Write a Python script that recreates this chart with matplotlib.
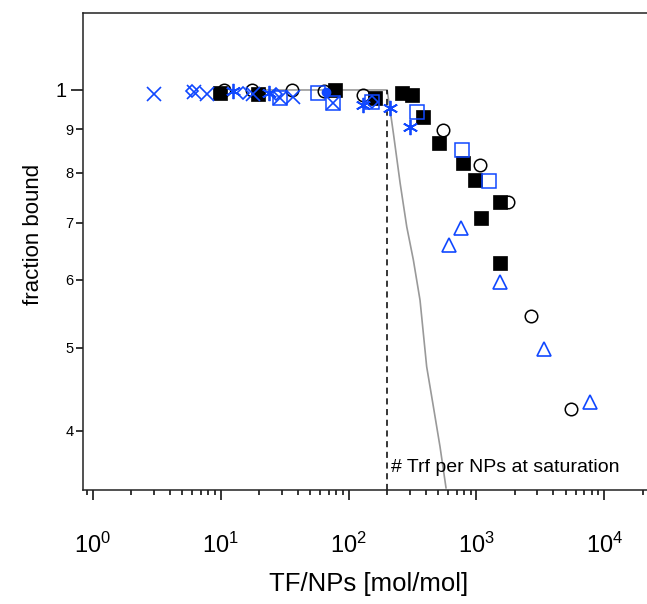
import numpy as np
import matplotlib.pyplot as plt
from matplotlib.ticker import FixedLocator, FixedFormatter, LogLocator, NullFormatter

plt.rcParams['font.family'] = ['Liberation Sans', 'DejaVu Sans']
plt.rcParams['mathtext.fontset'] = 'custom'
plt.rcParams['mathtext.rm'] = 'Liberation Sans'
plt.rcParams['mathtext.it'] = 'Liberation Sans:italic'

BLUE = '#1048ff'

# black filled squares
sq_black_x = [9.8, 19.6, 78, 161, 260, 312, 383, 513, 778, 970, 1085, 1517, 1528]
sq_black_y = [0.991, 0.990, 1.0, 0.978, 0.991, 0.987, 0.931, 0.866, 0.821, 0.786, 0.708, 0.739, 0.628]

# black open circles
circ_x = [10.6, 17.6, 36, 64, 130, 544, 1066, 1763, 2678, 5456]
circ_y = [1.0, 1.0, 1.0, 0.997, 0.987, 0.898, 0.817, 0.739, 0.545, 0.424]

# blue open squares
bsq_x = [29, 58, 76, 151, 342, 775, 1259]
bsq_y = [0.978, 0.991, 0.965, 0.969, 0.943, 0.851, 0.783]

# blue open triangles
tri_x = [610, 752, 1537, 3385, 7676]
tri_y = [0.659, 0.689, 0.597, 0.498, 0.432]

# blue asterisks
ast_x = [12.4, 23.8, 130, 211, 303]
ast_y = [0.998, 0.991, 0.960, 0.952, 0.906]

# blue crosses
cross_x = [3.0, 6.2, 7.8, 17.9, 29, 36.7, 76]
cross_y = [0.988, 0.995, 0.988, 0.988, 0.978, 0.980, 0.965]

# blue diamonds
dia_x = [5.9, 14.9, 27, 151]
dia_y = [0.997, 0.993, 0.990, 0.969]

# blue filled circle
bdot_x = [66.8]
bdot_y = [0.994]

# gray model curve
line_x = [20, 200, 211, 224, 253, 285, 321, 362, 408, 460, 519, 578]
line_y = [1.0, 1.0, 0.948, 0.890, 0.778, 0.692, 0.633, 0.568, 0.475, 0.427, 0.383, 0.343]

sat_x = 200
x_lim = (0.835, 21600)
y_lim = (0.341, 1.231)
y_minor = [0.4, 0.5, 0.6, 0.7, 0.8, 0.9]
y_minor_labels = ['4', '5', '6', '7', '8', '9']

fig = plt.figure(figsize=(6.47, 6.04), dpi=100)
ax = fig.add_axes([83 / 647, (604 - 490) / 604, 1 - 83 / 647, (490 - 12.7) / 604])
ax.set_xscale('log')
ax.set_yscale('log')

ax.plot(line_x, line_y, color='#999999', lw=1.2, zorder=1)
ax.plot([sat_x, sat_x], [y_lim[0], 1.0], color='black', lw=1.1,
        linestyle=(0, (4, 3)), zorder=1)

ms = dict(linestyle='none', zorder=3)
ax.plot(sq_black_x, sq_black_y, marker='s', ms=10, mfc='black', mec='black', mew=0.5, **ms)
ax.plot(circ_x, circ_y, marker='o', ms=9, mfc='none', mec='black', mew=1.1, **ms)
ax.plot(bsq_x, bsq_y, marker='s', ms=9.5, mfc='none', mec=BLUE, mew=1.1, **ms)
ax.plot(tri_x, tri_y, marker='^', ms=10, mfc='none', mec=BLUE, mew=1.2, **ms)
ax.plot(ast_x, ast_y, marker=(6, 2, 0), ms=11, mec=BLUE, mew=1.3, **ms)
ax.plot(cross_x, cross_y, marker='x', ms=10, mec=BLUE, mew=1.2, **ms)
ax.plot(dia_x, dia_y, marker='D', ms=6.5, mfc='none', mec=BLUE, mew=1.2, **ms)
ax.plot(bdot_x, bdot_y, marker='o', ms=6, mfc=BLUE, mec=BLUE, **ms)

ax.text(215, 0.3627, '# Trf per NPs at saturation', fontsize=14,
        ha='left', va='center')

ax.set_xlim(*x_lim)
ax.set_ylim(*y_lim)

for s in ['left', 'top', 'bottom']:
    ax.spines[s].set_linewidth(1.1)
    ax.spines[s].set_color('#222222')
ax.spines['right'].set_visible(False)

ax.xaxis.set_major_locator(LogLocator(base=10, numticks=10))
ax.xaxis.set_minor_locator(LogLocator(base=10, subs=np.arange(2, 10), numticks=20))
ax.xaxis.set_minor_formatter(NullFormatter())
ax.tick_params(axis='x', which='major', length=7.5, width=1.1, labelsize=17, pad=23)
ax.tick_params(axis='x', which='minor', length=3.6, width=1.1)

ax.yaxis.set_major_locator(FixedLocator([1.0]))
ax.yaxis.set_major_formatter(FixedFormatter(['1']))
ax.yaxis.set_minor_locator(FixedLocator(y_minor))
ax.yaxis.set_minor_formatter(FixedFormatter(y_minor_labels))
ax.tick_params(axis='y', which='major', length=8.5, width=1.1, labelsize=14.5, pad=3)
ax.tick_params(axis='y', which='minor', length=5, width=1.1, labelsize=10.5, pad=2)

ax.set_xlabel('TF/NPs [mol/mol]', fontsize=18.5)
ax.xaxis.set_label_coords(0.507, -0.172)
ax.set_ylabel('fraction bound', fontsize=16)
ax.yaxis.set_label_coords(-0.07, 0.535)

fig.savefig('out.png', dpi=100)
